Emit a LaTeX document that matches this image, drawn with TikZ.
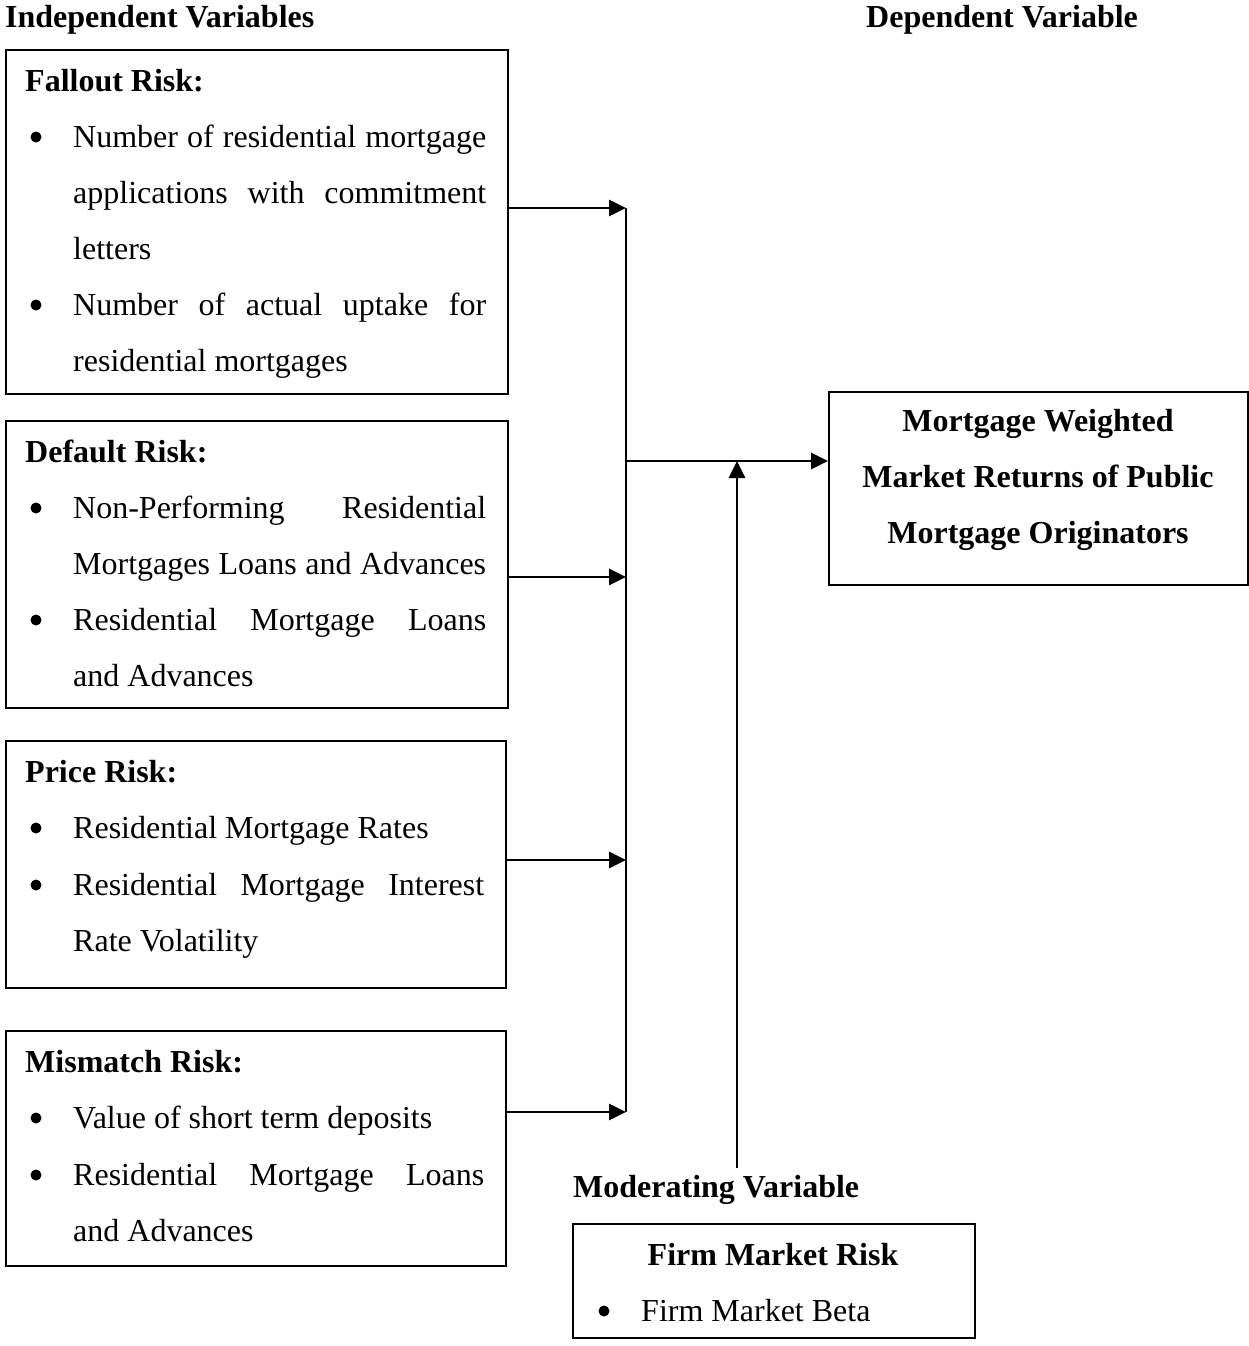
\documentclass[tikz,border=0pt]{standalone}
\usepackage{fontspec}
\setmainfont{Liberation Serif}
\usetikzlibrary{arrows.meta}
\begin{document}
\begin{tikzpicture}[x=1pt,y=-1pt,
  txt/.style={font=\fontsize{32}{38}\selectfont, inner sep=0pt, anchor=base west},
  hd/.style={font=\fontsize{32}{38}\selectfont\bfseries, inner sep=0pt, anchor=base west},
  ctr/.style={font=\fontsize{32}{38}\selectfont\bfseries, inner sep=0pt, anchor=base},
  bul/.style={circle, fill, inner sep=0pt, minimum size=11pt, yshift=10pt},
  boxst/.style={draw, line width=1.8pt, inner sep=0pt, anchor=north west},
  arr/.style={line width=2.8pt, -{Triangle[length=17pt,width=16pt]}},
  ln/.style={line width=2.8pt}]
\useasboundingbox (0,0) rectangle (1248,1346);
\newcommand{\jl}[1]{\makebox[413pt][s]{#1}}
\newcommand{\jm}[1]{\makebox[411pt][s]{#1}}
% headers
\node[hd] (hind) at (5,28) {Independent Variables};
\node[hd] (hdep) at (866,28) {Dependent Variable};
\node[hd] (hmod) at (573,1197) {Moderating Variable};
% box 1
\node[boxst, minimum width=502pt, minimum height=344pt] (b1) at (5,49) {};
\node[hd] (b1h) at (25,91) {Fallout Risk:};
\node[bul] (b1p1) at (36,147) {};
\node[txt] (b1a) at (73,147) {\jl{Number of residential mortgage}};
\node[txt] (b1b) at (73,203) {\jl{applications with commitment}};
\node[txt] (b1c) at (73,259) {letters};
\node[bul] (b1p2) at (36,315) {};
\node[txt] (b1d) at (73,315) {\jl{Number of actual uptake for}};
\node[txt] (b1e) at (73,371) {residential mortgages};
% box 2
\node[boxst, minimum width=502pt, minimum height=287pt] (b2) at (5,420) {};
\node[hd] (b2h) at (25,462) {Default Risk:};
\node[bul] (b2p1) at (36,518) {};
\node[txt] (b2a) at (73,518) {\jl{Non-Performing Residential}};
\node[txt] (b2b) at (73,574) {\jl{Mortgages Loans and Advances}};
\node[bul] (b2p2) at (36,630) {};
\node[txt] (b2c) at (73,630) {\jl{Residential Mortgage Loans}};
\node[txt] (b2d) at (73,686) {and Advances};
% box 3
\node[boxst, minimum width=500pt, minimum height=247pt] (b3) at (5,740) {};
\node[hd] (b3h) at (25,782) {Price Risk:};
\node[bul] (b3p1) at (36,838) {};
\node[txt] (b3a) at (73,838) {Residential Mortgage Rates};
\node[bul] (b3p2) at (36,895) {};
\node[txt] (b3b) at (73,895) {\jm{Residential Mortgage Interest}};
\node[txt] (b3c) at (73,951) {Rate Volatility};
% box 4
\node[boxst, minimum width=500pt, minimum height=235pt] (b4) at (5,1030) {};
\node[hd] (b4h) at (25,1072) {Mismatch Risk:};
\node[bul] (b4p1) at (36,1128) {};
\node[txt] (b4a) at (73,1128) {Value of short term deposits};
\node[bul] (b4p2) at (36,1185) {};
\node[txt] (b4b) at (73,1185) {\jm{Residential Mortgage Loans}};
\node[txt] (b4c) at (73,1241) {and Advances};
% dependent box
\node[boxst, minimum width=419pt, minimum height=193pt] (dep) at (828,391) {};
\node[ctr] (d1) at (1038,431) {Mortgage Weighted};
\node[ctr] (d2) at (1038,487) {Market Returns of Public};
\node[ctr] (d3) at (1038,543) {Mortgage Originators};
% firm box
\node[boxst, minimum width=402pt, minimum height=114pt] (firm) at (572,1223) {};
\node[ctr] (f1) at (773,1265) {Firm Market Risk};
\node[bul] (fp) at (604,1321) {};
\node[txt] (f2) at (641,1321) {Firm Market Beta};
% connectors
\coordinate (j1) at (626,208);
\coordinate (j2) at (626,577);
\coordinate (j3) at (626,860);
\coordinate (j4) at (626,1112);
\coordinate (jm) at (626,461);
\coordinate (mt) at (737,461);
\coordinate (mb) at (737,1168);
\draw[arr] (b1.east |- j1) -- (j1);
\draw[arr] (b2.east |- j2) -- (j2);
\draw[arr] (b3.east |- j3) -- (j3);
\draw[arr] (b4.east |- j4) -- (j4);
\draw[ln] (j1) -- (j4);
\draw[arr] (jm) -- (dep.west |- jm);
\draw[arr] (mb) -- (mt);
\end{tikzpicture}
\end{document}
